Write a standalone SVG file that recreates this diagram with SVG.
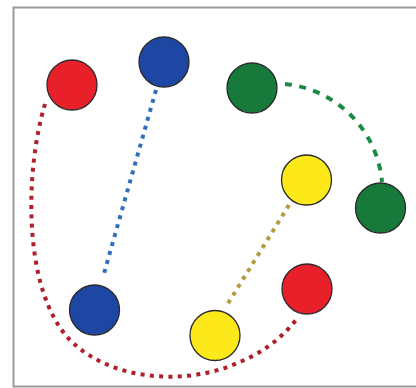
<svg xmlns="http://www.w3.org/2000/svg" width="416" height="388" viewBox="0 0 416 388">
<style>
.node{stroke:#2a2a2a;stroke-width:1.3}
.red{fill:#e8202a}
.blue{fill:#1d47a3}
.green{fill:#17793a}
.yellow{fill:#fde919}
.link{fill:none;stroke-width:4}
.dot{stroke-dasharray:4 5.3}
</style>
<rect width="416" height="388" fill="#ffffff"/>
<path d="M418,7.5 H13.5 V386.5 H418" fill="none" stroke="#9a9a9a" stroke-width="2"/>
<g id="connectors">
<path class="link dot" stroke="#b01f2c" d="M45,104 C25,170 22,290 70,340 C110,380 180,385 230,366 C260,355 280,340 296,320"/>
<path class="link dot" stroke="#2f70bc" d="M156,90 L103,277"/>
<path class="link dot" stroke="#b59b3e" d="M289,205 L227,305"/>
<path class="link" stroke="#1b8a45" stroke-width="5" stroke-dasharray="7 7.5" d="M285,84 A108,108 0 0 1 382,182"/>
</g>
<g id="red-top"><circle class="node red" cx="72" cy="85" r="25"/></g>
<g id="blue-top"><circle class="node blue" cx="164" cy="62" r="25"/></g>
<g id="green-top"><circle class="node green" cx="252" cy="88" r="25"/></g>
<g id="yellow-top"><circle class="node yellow" cx="306.5" cy="180" r="25"/></g>
<g id="green-right"><circle class="node green" cx="380.5" cy="208" r="25"/></g>
<g id="blue-bottom"><circle class="node blue" cx="94.5" cy="310" r="25"/></g>
<g id="yellow-bottom"><circle class="node yellow" cx="215" cy="335.5" r="25"/></g>
<g id="red-bottom"><circle class="node red" cx="307" cy="289" r="25"/></g>
</svg>
